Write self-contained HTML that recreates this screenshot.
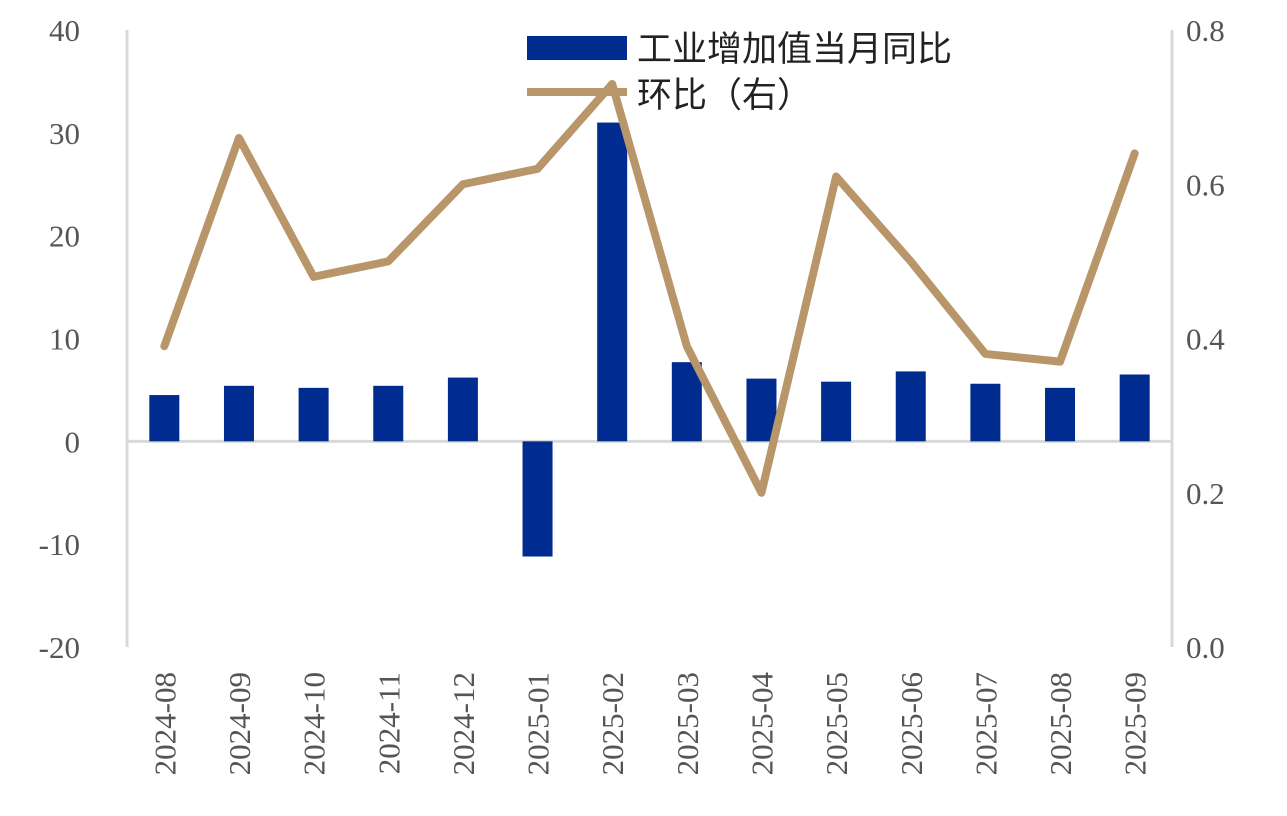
<!DOCTYPE html>
<html><head><meta charset="utf-8">
<style>
html,body{margin:0;padding:0;background:#fff;}
svg{display:block;font-family:"Liberation Serif","Noto Serif CJK SC",serif;}
</style></head>
<body>
<svg id="chart" width="1287" height="816">
<g id="axes"></g>
<g id="bars"></g>
<g id="line"></g>
<g id="legend">
  <rect x="527" y="36" width="100" height="24" fill="#002B8F"/>
  <text x="637" y="61" font-size="35" fill="#222" font-family="Liberation Sans, Noto Sans CJK SC, sans-serif">工业增加值当月同比</text>
  <line x1="527" y1="92" x2="627" y2="92" stroke="#B8966A" stroke-width="8"/>
  <text x="637" y="107" font-size="35" fill="#222" font-family="Liberation Sans, Noto Sans CJK SC, sans-serif">环比（右）</text>
</g>
</svg>
<script>
const categories=["2024-08","2024-09","2024-10","2024-11","2024-12","2025-01","2025-02","2025-03","2025-04","2025-05","2025-06","2025-07","2025-08","2025-09"];
const yoyValues=[4.5,5.4,5.2,5.4,6.2,-11.2,31.0,7.7,6.1,5.8,6.8,5.6,5.2,6.5];
const momValues=[0.39,0.66,0.48,0.50,0.60,0.62,0.73,0.39,0.20,0.61,0.50,0.38,0.37,0.64];
const leftTicks=[40,30,20,10,0,-10,-20];
const rightTicks=["0.8","0.6","0.4","0.2","0.0"];
const NS="http://www.w3.org/2000/svg";
const X0=127,X1=1172,YT=30,YB=647;
const band=(X1-X0)/categories.length;
const xC=i=>X0+band*(i+0.5);
const yL=v=>YB-(v+20)/60*(YB-YT);
const yR=v=>YB-v/0.8*(YB-YT);
function mk(t,a,p){const e=document.createElementNS(NS,t);for(const k in a)e.setAttribute(k,a[k]);p.appendChild(e);return e;}
const axes=document.getElementById('axes');
let e=mk('line',{x1:X0,y1:YT,x2:X0,y2:YB,stroke:'#d9d9d9','stroke-width':3},axes);


e=mk('line',{x1:X1,y1:YT,x2:X1,y2:YB,stroke:'#d9d9d9','stroke-width':3},axes);


e=mk('line',{x1:X0,y1:yL(0),x2:X1,y2:yL(0),stroke:'#d9d9d9','stroke-width':3},axes);


leftTicks.forEach(v=>{
  const t=mk('text',{x:80,y:yL(v)+11,'text-anchor':'end','font-size':31,fill:'#555'},axes);
  t.textContent=v;
  
  
});
rightTicks.forEach(s=>{
  const t=mk('text',{x:1186,y:yR(parseFloat(s))+11,'font-size':31,fill:'#555'},axes);
  t.textContent=s;
  
  
});
categories.forEach((c,i)=>{
  const x=xC(i)+11,y=672;
  const t=mk('text',{x:x,y:y,'text-anchor':'end','font-size':31,fill:'#555',transform:`rotate(-90 ${x} ${y})`},axes);
  t.textContent=c;
  
  
});
const bars=document.getElementById('bars');
yoyValues.forEach((v,i)=>{
  const y0=yL(0),y1=yL(v);
  const r=mk('rect',{x:xC(i)-15,y:Math.min(y0,y1),width:30,height:Math.abs(y1-y0),fill:'#002B8F'},bars);
  
  
});
const lg=document.getElementById('line');
const p=mk('polyline',{points:momValues.map((v,i)=>xC(i)+','+yR(v)).join(' '),fill:'none',stroke:'#B8966A','stroke-width':8,'stroke-linejoin':'round','stroke-linecap':'round'},lg);


</script>
</body></html>
